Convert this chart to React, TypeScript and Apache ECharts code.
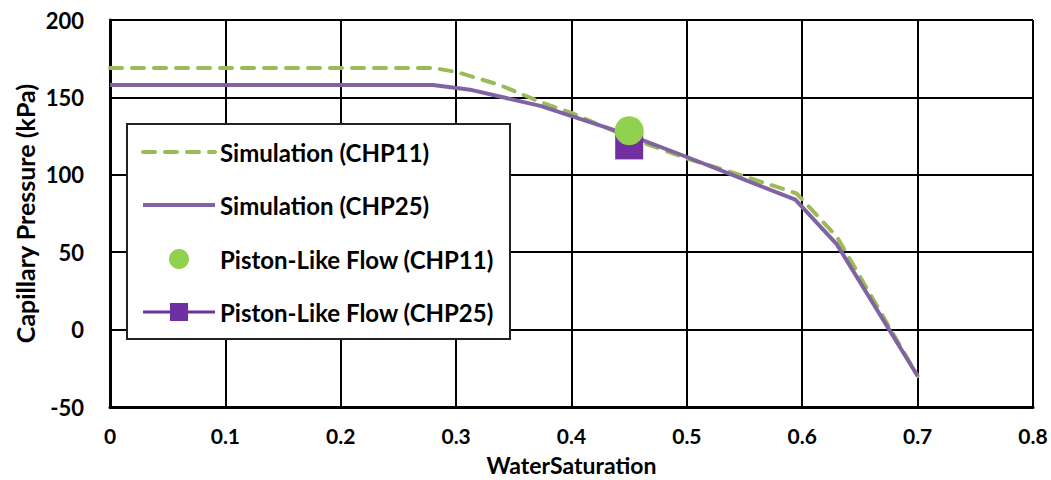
import React, { useEffect, useRef } from "react";
import * as echarts from "echarts";

// Water saturation (x) vs capillary pressure in kPa (y)
const simCHP11: [number, number][] = [
  [0, 169], [0.28, 169], [0.3, 166.5], [0.338, 158], [0.373, 147], [0.4, 140],
  [0.45, 124], [0.5, 110.5], [0.546, 100], [0.595, 88], [0.63, 60], [0.7, -30],
];
const simCHP25: [number, number][] = [
  [0, 158], [0.28, 158], [0.312, 155], [0.373, 144.5], [0.449, 126], [0.5, 111.5],
  [0.546, 98], [0.594, 84], [0.63, 55], [0.7, -30],
];
const pistonCHP11: [number, number][] = [[0.45, 128.5]];
const pistonCHP25: [number, number][] = [[0.45, 119]];

const legendNames = [
  "Simulation (CHP11)",
  "Simulation (CHP25)",
  "Piston-Like Flow (CHP11)",
  "Piston-Like Flow (CHP25)",
];

const FONT = "Lato, 'Open Sans', sans-serif";
const GREEN_LINE = "#9BBB59";
const PURPLE_LINE = "#8064A2";
const GREEN_DOT = "#92D050";
const PURPLE_SQ = "#7030A0";

export default function App() {
  const ref = useRef<HTMLDivElement>(null);

  useEffect(() => {
    if (!ref.current) return;
    const chart = echarts.init(ref.current, undefined, { renderer: "svg" });

    const rowY = [152, 205, 259, 312];
    const iconX1 = 143;
    const iconX2 = 215;
    const iconMid = (iconX1 + iconX2) / 2;
    const Z = 100;
    const textStyle = (text: string) => ({
      text,
      fill: "#000",
      font: `bold 24px ${FONT}`,
      verticalAlign: "middle" as const,
      align: "left" as const,
    });

    chart.setOption({
      animation: false,
      textStyle: { fontFamily: FONT },
      grid: {
        left: 110,
        right: 18,
        top: 20,
        bottom: 73,
        containLabel: false,
        outerBoundsMode: "none",
      },
      xAxis: {
        type: "value",
        min: 0,
        max: 0.8,
        interval: 0.1,
        name: "WaterSaturation",
        nameLocation: "middle",
        nameGap: 46,
        nameMoveOverlap: false,
        nameTextStyle: { fontSize: 23, fontWeight: "bold", color: "#000", fontFamily: FONT },
        axisLine: { show: true, onZero: false, lineStyle: { color: "#000", width: 3 } },
        axisTick: { show: false },
        axisLabel: {
          margin: 18,
          fontSize: 21,
          fontWeight: "bold",
          color: "#000",
          fontFamily: FONT,
          formatter: (v: number) => (v === 0 ? "0" : v.toFixed(1)),
        },
        splitLine: { show: true, lineStyle: { color: "#000", width: 2 } },
      },
      yAxis: {
        type: "value",
        min: -50,
        max: 200,
        interval: 50,
        name: "Capillary Pressure (kPa)",
        nameLocation: "middle",
        nameGap: 73,
        nameRotate: 90,
        nameMoveOverlap: false,
        nameTextStyle: { fontSize: 25, fontWeight: "bold", color: "#000", fontFamily: FONT },
        axisLine: { show: true, onZero: false, lineStyle: { color: "#000", width: 3 } },
        axisTick: { show: false },
        axisLabel: {
          margin: 26,
          fontSize: 22,
          fontWeight: "bold",
          color: "#000",
          fontFamily: FONT,
        },
        splitLine: { show: true, lineStyle: { color: "#000", width: 2 } },
      },
      series: [
        {
          name: legendNames[0],
          type: "line",
          data: simCHP11,
          symbol: "none",
          z: 2,
          lineStyle: { color: GREEN_LINE, width: 4, type: [12, 10], cap: "round" },
        },
        {
          name: legendNames[1],
          type: "line",
          data: simCHP25,
          symbol: "none",
          z: 3,
          lineStyle: { color: PURPLE_LINE, width: 4 },
        },
        {
          name: legendNames[3],
          type: "scatter",
          data: pistonCHP25,
          symbol: "rect",
          symbolSize: 28,
          z: 4,
          itemStyle: { color: PURPLE_SQ, opacity: 1 },
        },
        {
          name: legendNames[2],
          type: "scatter",
          data: pistonCHP11,
          symbol: "circle",
          symbolSize: 29,
          z: 5,
          itemStyle: { color: GREEN_DOT, opacity: 1 },
        },
      ],
      graphic: [
        {
          type: "rect",
          z: Z,
          shape: { x: 127, y: 124, width: 383, height: 215 },
          style: { fill: "#fff", stroke: "#222", lineWidth: 2 },
        },
        {
          type: "line",
          z: Z + 1,
          shape: { x1: iconX1, y1: rowY[0], x2: iconX2, y2: rowY[0] },
          style: { stroke: GREEN_LINE, lineWidth: 4, lineDash: [12, 10], lineCap: "round" },
        },
        {
          type: "line",
          z: Z + 1,
          shape: { x1: iconX1, y1: rowY[1], x2: iconX2, y2: rowY[1] },
          style: { stroke: PURPLE_LINE, lineWidth: 4 },
        },
        {
          type: "circle",
          z: Z + 1,
          shape: { cx: iconMid, cy: rowY[2], r: 10 },
          style: { fill: GREEN_DOT },
        },
        {
          type: "line",
          z: Z + 1,
          shape: { x1: iconX1, y1: rowY[3], x2: iconX2, y2: rowY[3] },
          style: { stroke: PURPLE_SQ, lineWidth: 3 },
        },
        {
          type: "rect",
          z: Z + 2,
          shape: { x: iconMid - 9, y: rowY[3] - 9, width: 18, height: 18 },
          style: { fill: PURPLE_SQ },
        },
        ...legendNames.map((n, i) => ({
          type: "text",
          z: Z + 1,
          x: 220,
          y: rowY[i],
          style: textStyle(n),
        })),
      ],
    });

    return () => chart.dispose();
  }, []);

  return (
    <div
      ref={ref}
      style={{ position: "fixed", left: 0, top: 0, width: 1051, height: 480, background: "#fff" }}
    />
  );
}
